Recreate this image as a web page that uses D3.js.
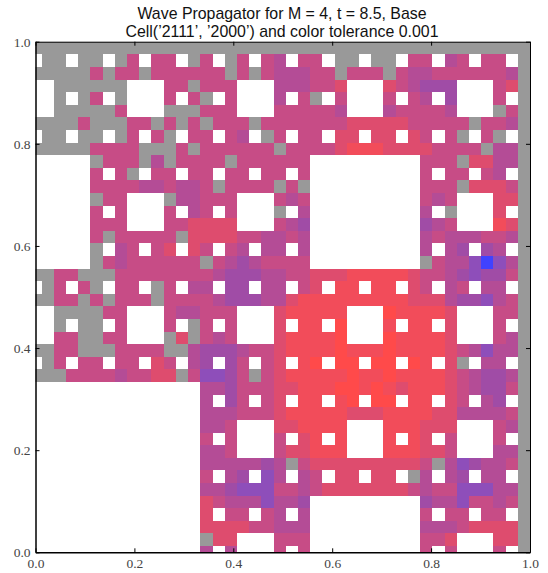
<!DOCTYPE html>
<html><head><meta charset="utf-8">
<script src="https://cdn.jsdelivr.net/npm/d3@7/dist/d3.min.js"></script>
<style>html,body{margin:0;padding:0;background:#fff}svg{display:block}</style>
</head><body><div id="c"></div>
<script>
const titleLines = ["Wave Propagator for M = 4, t = 8.5, Base", "Cell(\u20192111\u2019, \u20192000\u2019) and color tolerance 0.001"];
const tickValues = [0, 0.2, 0.4, 0.6, 0.8, 1.0];
// one string per grid row, top row first: '.' = hole, '#' = below tolerance, 0-9 = blue-to-red level
const gridRows = [
"### ### ### ### ### ### ### ### ### ### ### ### ### ##",
".## .## .#6 .66 .#6 .#6 .65 .66 .## .## .66 .56 .66 .#",
"### ##6 #66 #66 666 6#6 #65 556 6#6 66# 655 666 666 5#",
"..# ### ##. ..6 6#6 66. ..5 556 67. ..7 654 44. ..6 7#",
"..# .#6 .#. ..6 .6# .6. ..5 .6# .6. ..6 .65 .4. ..6 .#",
"..# ### #6. ..# ##6 66. ..6 666 65. ..5 666 65. ..# 6#",
"### #6# ##6 6#6 #6# 666 #66 666 667 777 766 666 #66 5#",
".## .## .#6 .6# .66 .65 .#6 .66 .77 .77 .76 .6# .6# .#",
"### ##6 666 ### 6#6 666 66# 666 678 887 777 666 6#5 5#",
"... ..# 666 #5# 666 6#6 666 66. ... ... ..6 66# 775 5#",
"... ..6 .6# .66 .66 .66 .66 .6. ... ... ..6 .66 .65 .#",
"... ..6 666 556 556 #66 66# 6#. ... ... ..6 66# 777 6#",
"... ..# 66. ..# 556 66. ..6 56. ... ... ..6 56. ..7 7#",
"... ..6 .6. ..6 .56 .6. ..# .5. ... ... ..5 .#. ..7 .#",
"... ..6 66. ..6 677 77. ..6 54. ... ... ..4 56. ..8 7#",
"... ..6 #66 666 #77 776 655 65. ... ... ..5 655 566 5#",
"... ..# .56 .67 .76 .65 .55 .5. ... ... ..5 .54 .45 .#",
"... ..# 656 666 66# 654 566 66. ... ... ..# 655 303 5#",
"##6 6## #66 666 666 544 455 667 778 888 876 654 344 6#",
".#6 .6# .66 .#6 .55 .44 .55 .67 .88 .88 .76 .56 .55 .#",
"##6 6#6 #66 6#6 666 544 455 788 888 888 877 754 435 6#",
"..# ### 66. ..6 556 66. ..7 888 88. ..9 888 87. ..6 6#",
"..# .## .6. ..6 .#6 .6. ..7 .88 .9. ..8 .88 .7. ..6 .#",
"..6 6## 66. ..# 7#6 56. ..7 888 89. ..9 888 87. ..6 5#",
"##6 6## #66 66# #54 445 667 888 898 889 888 876 535 5#",
".#6 .66 .66 .76 .54 .46 .67 .89 .99 .99 .98 .7# .55 .#",
"### 666 656 677 #63 346 #67 888 889 889 888 876 544 5#",
"... ... ... ... ..5 546 667 788 899 898 788 876 544 6#",
"... ... ... ... ..5 .46 .67 .88 .89 .99 .88 .76 .54 .#",
"... ... ... ... ..5 556 667 888 887 778 888 775 555 6#",
"... ... ... ... ..5 56. ..7 788 88. ..8 887 77. ..6 5#",
"... ... ... ... ..6 .6. ..6 .78 .8. ..8 .87 .6. ..6 .#",
"... ... ... ... ..5 56. ..6 778 88. ..8 887 76. ..5 5#",
"... ... ... ... ..5 555 545 #67 777 777 776 #53 455 6#",
"... ... ... ... ..6 .54 .35 .56 .77 .77 .#5 .54 .55 .#",
"... ... ... ... ..5 543 336 656 777 777 765 663 335 5#",
"... ... ... ... ..7 655 535 54. ... ... ..4 553 665 6#",
"... ... ... ... ..7 .66 .65 .5. ... ... ..6 .66 .66 .#",
"... ... ... ... ..7 777 665 55. ... ... ..5 556 777 7#",
"... ... ... ... ..# 77. ..6 66. ... ... ..6 67. ..7 7#",
"... ... ... ... ..5 .5. ..6 .6. ... ... ..6 .6. ..6 .#"
].map(s => s.replace(/ /g, ""));
const levelDomain = [0, 3, 4, 5, 6, 7, 8, 9];
const levelColors = ["rgb(64,66,255)", "rgb(142,78,186)", "rgb(160,76,166)", "rgb(180,76,150)", "rgb(199,76,134)", "rgb(222,76,110)", "rgb(242,76,90)", "rgb(255,74,74)"];
const holeCode = ".", grayCode = "#", colGray = "#999999";

const W = 548, H = 573;
const svg = d3.select("#c").append("svg").attr("width", W).attr("height", H);
const x = d3.scaleLinear().domain([0, 1]).range([35.5, 530]);
const y = d3.scaleLinear().domain([0, 1]).range([552.3, 41.7]);
const nCols = gridRows[0].length, nRows = gridRows.length;
const step = 1 / (nCols - 0.5);
const mix = d3.scaleLinear().domain(levelDomain).range(levelColors).interpolate(d3.interpolateRgb);

const cells = [];
gridRows.forEach((row, i) => {
  const r = nRows - 1 - i;
  row.split("").forEach((ch, c) => {
    if (ch !== holeCode) cells.push({c, r, ch});
  });
});

svg.append("defs").append("clipPath").attr("id", "plot").append("rect")
  .attr("x", x(0)).attr("y", y(1)).attr("width", x(1) - x(0)).attr("height", y(0) - y(1));

svg.append("g").attr("clip-path", "url(#plot)").attr("shape-rendering", "crispEdges")
  .selectAll("rect").data(cells).join("rect")
  .attr("x", d => x((d.c - 0.5) * step))
  .attr("y", d => y((d.r + 0.5) * step))
  .attr("width", d => x((d.c + 0.5) * step) - x((d.c - 0.5) * step))
  .attr("height", d => y((d.r - 0.5) * step) - y((d.r + 0.5) * step))
  .attr("fill", d => d.ch === grayCode ? colGray : mix(+d.ch));

const fmt = d3.format(".1f");
const tickSize = 4;
function styleAxis(g, strokeWidth) {
  g.selectAll("text").attr("font-family", "'Liberation Serif','DejaVu Serif',serif").attr("font-size", 13.5).attr("fill", "#444");
  g.selectAll("line").attr("stroke", "#000").attr("stroke-width", 1);
  g.select(".domain").attr("stroke", "#000").attr("stroke-width", strokeWidth);
}
svg.append("g").attr("transform", `translate(0,${y(0)})`)
  .call(d3.axisBottom(x).tickValues(tickValues).tickFormat(fmt).tickSizeInner(-tickSize).tickSizeOuter(0).tickPadding(6))
  .call(g => styleAxis(g, 1.5));
svg.append("g").attr("transform", `translate(${x(0)},0)`)
  .call(d3.axisLeft(y).tickValues(tickValues).tickFormat(fmt).tickSizeInner(-tickSize).tickSizeOuter(0).tickPadding(5))
  .call(g => styleAxis(g, 1.5));
svg.append("g").attr("transform", `translate(0,${y(1)})`)
  .call(d3.axisTop(x).tickValues(tickValues).tickFormat("").tickSizeInner(-tickSize).tickSizeOuter(0))
  .call(g => styleAxis(g, 1));
svg.append("g").attr("transform", `translate(${x(1)},0)`)
  .call(d3.axisRight(y).tickValues(tickValues).tickFormat("").tickSizeInner(-tickSize).tickSizeOuter(0))
  .call(g => styleAxis(g, 1));

svg.append("g").selectAll("text").data(titleLines).join("text")
  .attr("x", 282).attr("y", (d, i) => 18.5 + i * 18.6)
  .attr("text-anchor", "middle")
  .attr("font-family", "'Liberation Sans',Arial,sans-serif").attr("font-size", 15.9).attr("fill", "#111")
  .text(d => d);
</script></body></html>
